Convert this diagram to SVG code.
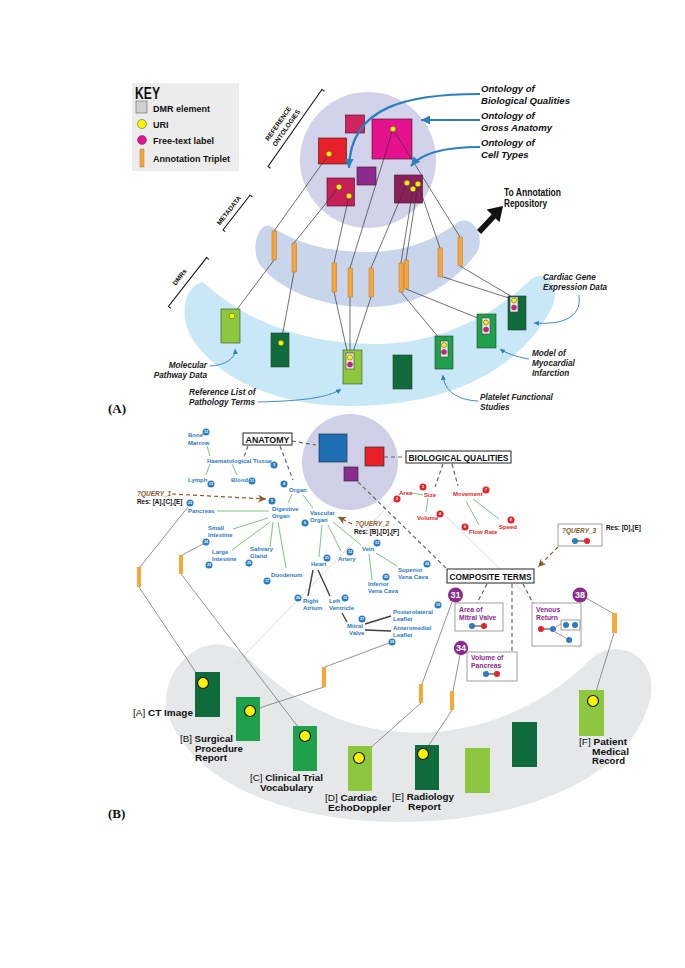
<svg xmlns="http://www.w3.org/2000/svg" width="685" height="968" viewBox="0 0 685 968">
<style>
text{font-family:"Liberation Sans",Arial,sans-serif;font-weight:bold}
.it{font-style:italic}
.key{font-size:9px;fill:#111}
.call{font-size:8.2px;fill:#222;font-style:italic}
.ont{font-size:9.6px;fill:#111;font-style:italic}
.brk{font-size:6.5px;fill:#111;text-anchor:middle}
.anat{font-size:6px;fill:#2b7bbf}
.bio{font-size:6px;fill:#e3242b}
.comp{font-size:6.8px;fill:#8b2a8f}
.dmr{font-size:8.3px;fill:#111}
.reg{font-weight:normal}
.q{font-size:6.5px;fill:#8b5a2b;font-style:italic}
.res{font-size:6.4px;fill:#111}
.num{font-size:3.6px;fill:#fff;text-anchor:middle}
.pn{font-size:9px;fill:#fff;text-anchor:middle}
.box{fill:#fff;stroke:#222;stroke-width:1}
.thin{stroke:#333;stroke-width:0.7;fill:none}
.conn{stroke:#777;stroke-width:0.8;fill:none}
.green{stroke:#6cc070;stroke-width:0.9;fill:none}
.dark{stroke:#4a3c3c;stroke-width:1.4;fill:none}
.dash{stroke:#666;stroke-width:1.2;stroke-dasharray:4 3;fill:none}
.bdash{stroke:#8b5a2b;stroke-width:1.2;stroke-dasharray:4 3;fill:none}
.bar{fill:#f4a53c;stroke:#b8782a;stroke-width:0.5}
.bbar{fill:#f7a836}
.yd{fill:#fff200;stroke:#444;stroke-width:0.5}
.md{fill:#e6118f;stroke:#444;stroke-width:0.5}
.bd{fill:#fff200;stroke:#111;stroke-width:1.2}
.inner{fill:#e8e8e8;stroke:#444;stroke-width:0.6}
.sq{stroke:#4a2030;stroke-width:0.7}
.dg{fill:#0f6b3b;stroke:#2b3a2b;stroke-width:0.6}
.mg{fill:#1fa04c;stroke:#2b3a2b;stroke-width:0.6}
.lg{fill:#8dc63f;stroke:#3a4a2b;stroke-width:0.6}
.dgb{fill:#0f6b3b}
.mgb{fill:#1fa04c}
.lgb{fill:#8dc63f}
.bb{fill:#2b7bbf}
.rb{fill:#e3242b}
.pb{fill:#8b2a8f}
.blue{stroke:#2a7fc1;stroke-width:2.2;fill:none}
.bluet{stroke:#2a7fc1;stroke-width:0.9;fill:none}
.faint{stroke:#dcdcdc;stroke-width:1;fill:none}
.gbox{fill:#fff;stroke:#888;stroke-width:0.8}
</style>
<defs>
<marker id="ab" viewBox="0 0 10 10" refX="10" refY="5" markerWidth="9" markerHeight="9" markerUnits="userSpaceOnUse" orient="auto"><path d="M0,0 L10,5 L0,10 z" fill="#2a7fc1"/></marker>
<marker id="as" viewBox="0 0 10 10" refX="10" refY="5" markerWidth="5" markerHeight="5" markerUnits="userSpaceOnUse" orient="auto"><path d="M0,0 L10,5 L0,10 z" fill="#2a7fc1"/></marker>
<marker id="abr" viewBox="0 0 10 10" refX="10" refY="5" markerWidth="8" markerHeight="8" markerUnits="userSpaceOnUse" orient="auto"><path d="M0,0 L10,5 L0,10 L3,5 z" fill="#8b5a2b"/></marker>
</defs>
<rect width="685" height="968" fill="#fff"/>

<!-- ================= PANEL A ================= -->
<g id="key">
<rect x="132" y="83" width="107" height="88" fill="#ececec"/>
<text x="135" y="99" style="font-size:16px" textLength="25" lengthAdjust="spacingAndGlyphs" fill="#111">KEY</text>
<rect x="136" y="101" width="11" height="12" fill="#d0d0d0" stroke="#666" stroke-width="0.6"/>
<text class="key" x="153" y="112">DMR element</text>
<circle cx="142" cy="124" r="4.5" class="yd"/>
<text class="key" x="153" y="128">URI</text>
<circle cx="142" cy="140" r="4.5" class="md"/>
<text class="key" x="153" y="144">Free-text label</text>
<rect x="140" y="149" width="4" height="18" class="bar"/>
<text class="key" x="153" y="162">Annotation Triplet</text>
</g>

<g id="bands-a">
<path d="M 203,282 C 250,325 310,345 380,344 C 440,343 495,315 530,280 C 545,268 562,285 552,307 C 525,362 460,406 350,406 C 270,406 215,375 192,338 C 178,315 185,285 203,282 Z" fill="#c9e8f7"/>
<path d="M 270,226 C 300,246 335,252 368,252 C 405,252 435,240 458,222 C 472,215 486,235 477,252 C 450,290 410,307 368,307 C 320,307 280,290 260,265 C 250,250 258,222 270,226 Z" fill="#c8d5eb"/>
<circle cx="368" cy="160" r="68" fill="#d2d3ea"/>
</g>

<g id="brackets" fill="none" stroke="#111" stroke-width="1">
<g transform="translate(295,128) rotate(-55)">
<path d="M -47,3 L -47,0 L 47,0 L 47,3"/>
<text class="brk" x="-6" y="-14" stroke="none">REFERENCE</text>
<text class="brk" x="-5" y="-5" stroke="none">ONTOLOGIES</text>
</g>
<g transform="translate(236.5,212.5) rotate(-52)">
<path d="M -22,3 L -22,0 L 22,0 L 22,3"/>
<text class="brk" x="-3" y="-5" stroke="none">METADATA</text>
</g>
<g transform="translate(187.5,282) rotate(-52)">
<path d="M -31,3 L -31,0 L 31,0 L 31,3"/>
<text class="brk" x="-1" y="-7" stroke="none">DMRs</text>
</g>
</g>

<g id="ontologies">
<rect id="sq-small" x="345.5" y="115" width="19" height="18" fill="#d0245e" class="sq"/>
<rect id="sq-anatomy" x="372" y="119" width="40" height="40" fill="#e6118f" class="sq"/>
<rect id="sq-red" x="318.5" y="138" width="28" height="26" fill="#e8202a" class="sq"/>
<rect id="sq-purple" x="357" y="167" width="19" height="18" fill="#8b2a8f" class="sq"/>
<rect id="sq-qual" x="327" y="178" width="27.5" height="28" fill="#c81e5a" class="sq"/>
<rect id="sq-cell" x="394.5" y="175" width="28" height="28" fill="#8b1f5b" class="sq"/>
</g>

<g id="connectors-a">
<path class="thin" d="M329,154 L274,231 M274,260 L232,316"/>
<path class="thin" d="M339,187 L294,243 M294,272 L281,343"/>
<path class="thin" d="M349,196 L334,263 M334,292 L348,355"/>
<path class="thin" d="M393,129 L350,268 M350,297 L350,355"/>
<path class="thin" d="M407,183 L371,268 M371,297 L352,355"/>
<path class="thin" d="M413,189 L401,263 M401,292 L444,344"/>
<path class="thin" d="M418,184 L406,260 M406,289 L485,321"/>
<path class="thin" d="M418,184 L440,248 M440,276 L512,299"/>
<path class="thin" d="M393,129 L460,237 M460,266 L514,298"/>
<path class="blue" d="M 480,94 C 410,94 350,105 349,168" marker-end="url(#ab)"/>
<path class="blue" d="M 480,120 L 421,120" marker-end="url(#ab)"/>
<path class="blue" d="M 480,147 C 440,147 420,155 411,166" marker-end="url(#ab)"/>
<path class="bluet" d="M 210,366 C 226,365 236,358 235,349" marker-end="url(#as)"/>
<path class="bluet" d="M 258,402 C 300,401 328,398 341,389" marker-end="url(#as)"/>
<path class="bluet" d="M 478,401 C 456,400 444,390 443,375" marker-end="url(#as)"/>
<path class="bluet" d="M 529,359 C 516,357 506,353 500,349" marker-end="url(#as)"/>
<path class="bluet" d="M 579,295 C 582,318 562,325 534,323" marker-end="url(#as)"/>
<path d="M 479,232 L 494,216" stroke="#111" stroke-width="5.5"/>
<path d="M 503,206 L 499.5,222.3 L 486.7,209.5 Z" fill="#111"/>
</g>

<g id="dots-a">
<circle cx="393" cy="129" r="2.8" class="yd"/>
<circle cx="329" cy="154" r="2.8" class="yd"/>
<circle cx="339" cy="187" r="2.8" class="yd"/>
<circle cx="349" cy="196" r="2.8" class="yd"/>
<circle cx="407" cy="183" r="2.8" class="yd"/>
<circle cx="418" cy="184" r="2.8" class="yd"/>
<circle cx="413" cy="189" r="2.8" class="yd"/>
</g>

<g id="triplets-a">
<rect class="bar" x="272" y="231" width="4.5" height="29"/>
<rect class="bar" x="292" y="243" width="4.5" height="29"/>
<rect class="bar" x="332" y="263" width="4.5" height="29"/>
<rect class="bar" x="348" y="268" width="4.5" height="29"/>
<rect class="bar" x="369" y="268" width="4.5" height="29"/>
<rect class="bar" x="399" y="263" width="4.5" height="29"/>
<rect class="bar" x="404" y="260" width="4.5" height="29"/>
<rect class="bar" x="438" y="248" width="4.5" height="29"/>
<rect class="bar" x="458" y="237" width="4.5" height="29"/>
</g>

<g id="dmr-a">
<g id="molecular"><rect class="lg" x="221" y="309" width="19" height="34"/><circle cx="232" cy="316" r="2.8" class="yd"/></g>
<g id="dmr-a2"><rect class="dg" x="271" y="333" width="18" height="34"/><circle cx="281" cy="343" r="2.8" class="yd"/></g>
<g id="pathology"><rect class="lg" x="343" y="350" width="19" height="34"/><rect class="inner" x="346" y="353" width="8" height="16"/><circle cx="350" cy="357.5" r="2.6" class="yd"/><circle cx="350" cy="364.5" r="2.6" class="md"/></g>
<g id="dmr-a4"><rect class="dg" x="393" y="355" width="19" height="34"/></g>
<g id="platelet"><rect class="mg" x="435" y="336" width="18" height="33"/><rect class="inner" x="440.5" y="341" width="7.5" height="16"/><circle cx="444" cy="345" r="2.5" class="yd"/><circle cx="444" cy="352" r="2.5" class="md"/></g>
<g id="myocardial"><rect class="mg" x="477" y="314" width="19" height="34"/><rect class="inner" x="482" y="318" width="8" height="16"/><circle cx="486" cy="322.5" r="2.5" class="yd"/><circle cx="486" cy="329.5" r="2.5" class="md"/></g>
<g id="cardiac"><rect class="dg" x="508" y="296" width="18" height="34"/><rect class="inner" x="510" y="297" width="8" height="15"/><circle cx="514" cy="300.5" r="2.5" class="yd"/><circle cx="514" cy="307.5" r="2.5" class="md"/></g>
</g>

<g id="labels-a">
<text class="ont" x="481" y="92">Ontology of</text>
<text class="ont" x="481" y="104">Biological Qualities</text>
<text class="ont" x="481" y="119">Ontology of</text>
<text class="ont" x="481" y="131">Gross Anatomy</text>
<text class="ont" x="481" y="146">Ontology of</text>
<text class="ont" x="481" y="158">Cell Types</text>
<text x="504" y="196" style="font-size:10px" fill="#111" textLength="57" lengthAdjust="spacingAndGlyphs">To Annotation</text>
<text x="504" y="207" style="font-size:10px" fill="#111" textLength="43" lengthAdjust="spacingAndGlyphs">Repository</text>
<text class="call" x="543" y="280">Cardiac Gene</text>
<text class="call" x="543" y="290">Expression Data</text>
<text class="call" x="532" y="356">Model of</text>
<text class="call" x="532" y="366">Myocardial</text>
<text class="call" x="532" y="376">Infarction</text>
<text class="call" x="480" y="400">Platelet Functional</text>
<text class="call" x="480" y="410">Studies</text>
<text class="call" x="207" y="368" text-anchor="end">Molecular</text>
<text class="call" x="207" y="378" text-anchor="end">Pathway Data</text>
<text class="call" x="189" y="395">Reference List of</text>
<text class="call" x="189" y="405">Pathology Terms</text>
<text x="108" y="413" style="font-family:'Liberation Serif',serif;font-size:13px" fill="#111">(A)</text>
</g>

<!-- ================= PANEL B ================= -->
<g id="band-b">
<path d="M 245,655 C 290,700 340,728 400,732 C 470,737 540,710 590,660 C 615,635 660,655 650,700 C 630,780 520,822 400,822 C 300,822 200,790 170,720 C 152,680 200,620 245,655 Z" fill="#e6e7e8"/>
<circle cx="350" cy="462" r="48" fill="#cfd0e8"/>
</g>

<g id="faint">
<path class="faint" d="M 400,494 L 236,664"/>
<path class="faint" d="M 440,510 L 580,648"/>
</g>

<g id="ontology-b">
<rect x="319" y="434" width="28" height="28" fill="#1f6fb5" stroke="#233" stroke-width="0.7"/>
<rect x="365" y="447" width="19" height="19" fill="#e8202a" stroke="#233" stroke-width="0.7"/>
<rect x="344" y="467" width="14" height="14" fill="#8b2a8f" stroke="#233" stroke-width="0.7"/>
</g>

<g id="connectors-b">
<path class="dash" d="M292,441 L316,445"/>
<path class="dash" d="M248,446 L244,457"/>
<path class="dash" d="M280,446 L293,480"/>
<path class="dash" d="M384,457 L406,457"/>
<path class="dash" d="M443,464 L435,487"/>
<path class="dash" d="M452,464 L458,486"/>
<path class="dash" d="M358,482 L447,569"/>
<path class="dash" d="M487,584 L477,603"/>
<path class="dash" d="M512,584 L512,652"/>
<path class="dash" d="M523,584 L533,603"/>
<path class="bdash" d="M172,494 L266,499" marker-end="url(#abr)"/>
<path class="bdash" d="M352,524 L338,517" marker-end="url(#abr)"/>
<path class="bdash" d="M558,547 L538,567" marker-end="url(#abr)"/>
<path class="green" d="M207,446 L210,456 M210,464 L206,475 M232,464 L237,475 M292,494 L288,503 M303,495 L313,508 M217,511 L269,511 M233,529 L268,518 M232,550 L270,522 M270,547 L273,522 M286,568 L278,522 M322,525 L319,557 M328,525 L341,551 M333,522 L361,545 M376,553 L397,566 M369,554 L372,580"/>
<path class="dark" d="M313,570 L308,596 M318,570 L330,596 M342,613 L347,622 M365,624 L391,616 M365,630 L391,631"/>
<path class="green" d="M412,493 L423,495 M428,498 L426,512 M466,501 L479,525 M473,499 L499,519"/>
<path class="conn" d="M188,507 L140,567 M139,587 L203,683"/>
<path class="conn" d="M203,544 L182,555 M181,574 L305,736"/>
<path class="conn" d="M389,643 L325,667 M324,687 L250,711"/>
<path class="conn" d="M452,602 L422,684 M421,703 L359,758"/>
<path class="conn" d="M460,655 L453,691 M452,710 L423,754"/>
<path class="conn" d="M586,598 L614,614 M614,633 L593,701"/>
</g>

<g id="triplets-b">
<rect class="bbar" x="137" y="567" width="4" height="20"/>
<rect class="bbar" x="179" y="555" width="4" height="19"/>
<rect class="bbar" x="322" y="667" width="4" height="20"/>
<rect class="bbar" x="419" y="684" width="4" height="19"/>
<rect class="bbar" x="450" y="691" width="4" height="19"/>
<rect class="bbar" x="612" y="613" width="5" height="20"/>
</g>

<g id="anatomy">
<rect class="box" x="243" y="433" width="49" height="12"/>
<text x="267.5" y="443" style="font-size:9.5px" fill="#111" text-anchor="middle" textLength="44" lengthAdjust="spacingAndGlyphs">ANATOMY</text>
</g>
<g id="bioqual">
<rect class="box" x="406" y="451" width="105" height="12"/>
<text x="458.5" y="461" style="font-size:9.5px" fill="#111" text-anchor="middle" textLength="100" lengthAdjust="spacingAndGlyphs">BIOLOGICAL QUALITIES</text>
</g>
<g id="composite">
<rect class="box" x="447" y="569" width="87" height="14"/>
<text x="490.5" y="580" style="font-size:9.5px" fill="#111" text-anchor="middle" textLength="82" lengthAdjust="spacingAndGlyphs">COMPOSITE TERMS</text>
</g>

<g id="anat-nodes">
<g id="bone-marrow"><text class="anat" x="188" y="437">Bone</text><text class="anat" x="188" y="445">Marrow</text><circle class="bb" cx="206" cy="432" r="3.5"/><text class="num" x="206" y="433.3">12</text></g>
<g id="haem"><text class="anat" x="207" y="463">Haematological Tissue</text><circle class="bb" cx="274" cy="465" r="3.5"/><text class="num" x="274" y="466.3">3</text></g>
<g id="lymph"><text class="anat" x="188" y="482">Lymph</text><circle class="bb" cx="211" cy="484" r="3.5"/><text class="num" x="211" y="485.3">13</text></g>
<g id="blood"><text class="anat" x="231" y="482">Blood</text><circle class="bb" cx="252" cy="481" r="3.5"/><text class="num" x="252" y="482.3">11</text></g>
<g id="organ"><text class="anat" x="289" y="492">Organ</text><circle class="bb" cx="284" cy="484" r="3.5"/><text class="num" x="284" y="485.3">4</text></g>
<g id="digestive"><text class="anat" x="272" y="511">Digestive</text><text class="anat" x="272" y="518">Organ</text><circle class="bb" cx="272" cy="501" r="3.5"/><text class="num" x="272" y="502.3">5</text></g>
<g id="pancreas"><text class="anat" x="188" y="513">Pancreas</text><circle class="bb" cx="190" cy="503" r="3.5"/><text class="num" x="190" y="504.3">22</text></g>
<g id="small-int"><text class="anat" x="208" y="530">Small</text><text class="anat" x="208" y="537">Intestine</text><circle class="bb" cx="206" cy="542" r="3.5"/><text class="num" x="206" y="543.3">24</text></g>
<g id="large-int"><text class="anat" x="212" y="554">Large</text><text class="anat" x="212" y="561">Intestine</text><circle class="bb" cx="209" cy="565" r="3.5"/><text class="num" x="209" y="566.3">23</text></g>
<g id="salivary"><text class="anat" x="250" y="551">Salivary</text><text class="anat" x="250" y="558">Gland</text><circle class="bb" cx="249" cy="563" r="3.5"/><text class="num" x="249" y="564.3">25</text></g>
<g id="duodenum"><text class="anat" x="271" y="577">Duodenum</text><circle class="bb" cx="267" cy="581" r="3.5"/><text class="num" x="267" y="582.3">17</text></g>
<g id="vascular"><text class="anat" x="310" y="515">Vascular</text><text class="anat" x="310" y="522">Organ</text><circle class="bb" cx="305" cy="523" r="3.5"/><text class="num" x="305" y="524.3">6</text></g>
<g id="heart"><text class="anat" x="311" y="566">Heart</text><circle class="bb" cx="327" cy="558" r="3.5"/><text class="num" x="327" y="559.3">21</text></g>
<g id="artery"><text class="anat" x="338" y="561">Artery</text><circle class="bb" cx="350" cy="552" r="3.5"/><text class="num" x="350" y="553.3">12</text></g>
<g id="vein"><text class="anat" x="362" y="551">Vein</text><circle class="bb" cx="377" cy="543" r="3.5"/><text class="num" x="377" y="544.3">13</text></g>
<g id="superior"><text class="anat" x="398" y="572">Superior</text><text class="anat" x="398" y="579">Vena Cava</text><circle class="bb" cx="427" cy="564" r="3.5"/><text class="num" x="427" y="565.3">24</text></g>
<g id="inferior"><text class="anat" x="368" y="586">Inferior</text><text class="anat" x="368" y="593">Vena Cava</text><circle class="bb" cx="386" cy="577" r="3.5"/><text class="num" x="386" y="578.3">25</text></g>
<g id="right-atrium"><text class="anat" x="303" y="603">Right</text><text class="anat" x="303" y="610">Atrium</text><circle class="bb" cx="298" cy="598" r="3.5"/><text class="num" x="298" y="599.3">26</text></g>
<g id="left-ventricle"><text class="anat" x="329" y="603">Left</text><text class="anat" x="329" y="610">Ventricle</text><circle class="bb" cx="345" cy="598" r="3.5"/><text class="num" x="345" y="599.3">15</text></g>
<g id="mitral"><text class="anat" x="347" y="628">Mitral</text><text class="anat" x="349" y="635">Valve</text><circle class="bb" cx="362" cy="619" r="3.5"/><text class="num" x="362" y="620.3">27</text></g>
<g id="posterolateral"><text class="anat" x="393" y="614">Posterolateral</text><text class="anat" x="393" y="621">Leaflet</text><circle class="bb" cx="438" cy="605" r="3.5"/><text class="num" x="438" y="606.3">19</text></g>
<g id="anteromedial"><text class="anat" x="393" y="630">Anteromedial</text><text class="anat" x="393" y="637">Leaflet</text><circle class="bb" cx="392" cy="642" r="3.5"/><text class="num" x="392" y="643.3">29</text></g>
</g>

<g id="bio-nodes">
<g id="area"><text class="bio" x="399" y="495">Area</text><circle class="rb" cx="397" cy="499" r="3.5"/><text class="num" x="397" y="500.3">2</text></g>
<g id="size"><text class="bio" x="424" y="497">Size</text><circle class="rb" cx="423" cy="487" r="3.5"/><text class="num" x="423" y="488.3">3</text></g>
<g id="volume"><text class="bio" x="417" y="520">Volume</text><circle class="rb" cx="440" cy="514" r="3.5"/><text class="num" x="440" y="515.3">4</text></g>
<g id="movement"><text class="bio" x="453" y="496">Movement</text><circle class="rb" cx="486" cy="490" r="3.5"/><text class="num" x="486" y="491.3">7</text></g>
<g id="flowrate"><text class="bio" x="469" y="534">Flow Rate</text><circle class="rb" cx="465" cy="527" r="3.5"/><text class="num" x="465" y="528.3">6</text></g>
<g id="speed"><text class="bio" x="499" y="529">Speed</text><circle class="rb" cx="511" cy="520" r="3.5"/><text class="num" x="511" y="521.3">8</text></g>
</g>

<g id="queries">
<g id="query1"><text class="q" x="137" y="496">?QUERY_1</text><text class="res" x="137" y="504">Res: [A],[C],[E]</text></g>
<g id="query2"><text class="q" x="355" y="526">?QUERY_2</text><text class="res" x="354" y="534">Res: [B],[D],[F]</text></g>
<g id="query3"><rect class="gbox" x="558" y="524" width="44" height="22"/><text class="q" x="562" y="533">?QUERY_3</text>
<path d="M575,541 L587,541" stroke="#333" stroke-width="1"/><circle class="bb" cx="575" cy="541" r="3"/><circle class="rb" cx="587" cy="541" r="3"/>
<text class="res" x="606" y="530">Res: [D],[E]</text></g>
</g>

<g id="composite-nodes">
<g id="ct31"><circle class="pb" cx="455.5" cy="595" r="7.5"/><text class="pn" x="455.5" y="598.3">31</text></g>
<g id="area-mitral"><rect class="gbox" x="455" y="603" width="48" height="28"/><text class="comp" x="459" y="612">Area of</text><text class="comp" x="459" y="619.5">Mitral Valve</text>
<path d="M472,626 L484,626" stroke="#333" stroke-width="1"/><circle class="bb" cx="472" cy="626" r="3"/><circle class="rb" cx="484" cy="626" r="3"/></g>
<g id="ct38"><circle class="pb" cx="580" cy="595" r="7.5"/><text class="pn" x="580" y="598.3">38</text></g>
<g id="venous"><rect class="gbox" x="532" y="603" width="49" height="43"/><text class="comp" x="536" y="612">Venous</text><text class="comp" x="536" y="619.5">Return</text>
<path d="M541,629 L553,629" stroke="#333" stroke-width="1"/><path d="M556,627 L561,624 M555,632 L566,638" stroke="#e3506b" stroke-width="0.8"/>
<rect class="gbox" x="561" y="620" width="19" height="10"/>
<circle class="rb" cx="541" cy="629" r="3"/><circle class="bb" cx="553" cy="629" r="3"/><circle class="bb" cx="566" cy="625" r="3"/><circle class="bb" cx="575" cy="625" r="3"/><circle class="bb" cx="569" cy="640" r="3"/></g>
<g id="ct34"><circle class="pb" cx="461" cy="648" r="7.2"/><text class="pn" x="461" y="651.3">34</text></g>
<g id="vol-pancreas"><rect class="gbox" x="467" y="652" width="50" height="29"/><text class="comp" x="471" y="660">Volume of</text><text class="comp" x="471" y="667.5">Pancreas</text>
<path d="M486,674 L497,674" stroke="#333" stroke-width="1"/><circle class="bb" cx="486" cy="674" r="3"/><circle class="rb" cx="497" cy="674" r="3"/></g>
</g>

<g id="dmr-b">
<g id="ct-image"><rect class="dgb" x="195" y="672" width="25" height="45"/><circle class="bd" cx="203" cy="683" r="5.5"/><text class="dmr" x="193" y="716" text-anchor="end" textLength="60" lengthAdjust="spacingAndGlyphs"><tspan class="reg">[A]</tspan> CT Image</text></g>
<g id="surgical"><rect class="mgb" x="236" y="697" width="24" height="44"/><circle class="bd" cx="250" cy="711" r="5.5"/><text class="dmr" x="180" y="742" textLength="53" lengthAdjust="spacingAndGlyphs"><tspan class="reg">[B]</tspan> Surgical</text><text class="dmr" x="195" y="751.5" textLength="48" lengthAdjust="spacingAndGlyphs">Procedure</text><text class="dmr" x="195" y="761" textLength="32" lengthAdjust="spacingAndGlyphs">Report</text></g>
<g id="clinical"><rect class="mgb" x="293" y="726" width="24" height="45"/><circle class="bd" cx="305" cy="736" r="5.5"/><text class="dmr" x="250" y="781" textLength="73" lengthAdjust="spacingAndGlyphs"><tspan class="reg">[C]</tspan> Clinical Trial</text><text class="dmr" x="260" y="790.5" textLength="53" lengthAdjust="spacingAndGlyphs">Vocabulary</text></g>
<g id="echodoppler"><rect class="lgb" x="348" y="746" width="24" height="45"/><circle class="bd" cx="359" cy="758" r="5.5"/><text class="dmr" x="325" y="801" textLength="52" lengthAdjust="spacingAndGlyphs"><tspan class="reg">[D]</tspan> Cardiac</text><text class="dmr" x="328" y="810.5" textLength="63" lengthAdjust="spacingAndGlyphs">EchoDoppler</text></g>
<g id="radiology"><rect class="dgb" x="415" y="745" width="24" height="45"/><circle class="bd" cx="423" cy="754" r="5.5"/><text class="dmr" x="392" y="800" textLength="62" lengthAdjust="spacingAndGlyphs"><tspan class="reg">[E]</tspan> Radiology</text><text class="dmr" x="408" y="809.5" textLength="33" lengthAdjust="spacingAndGlyphs">Report</text></g>
<g id="dmr-b6"><rect class="lgb" x="465" y="748" width="25" height="45"/></g>
<g id="dmr-b7"><rect class="dgb" x="512" y="722" width="25" height="45"/></g>
<g id="patient"><rect class="lgb" x="579" y="690" width="25" height="46"/><circle class="bd" cx="593" cy="701" r="5.5"/><text class="dmr" x="579" y="745" textLength="48" lengthAdjust="spacingAndGlyphs"><tspan class="reg">[F]</tspan> Patient</text><text class="dmr" x="592" y="754.5" textLength="37" lengthAdjust="spacingAndGlyphs">Medical</text><text class="dmr" x="592" y="764" textLength="33" lengthAdjust="spacingAndGlyphs">Record</text></g>
</g>

<text x="108" y="818" style="font-family:'Liberation Serif',serif;font-size:13px" fill="#111">(B)</text>
</svg>
